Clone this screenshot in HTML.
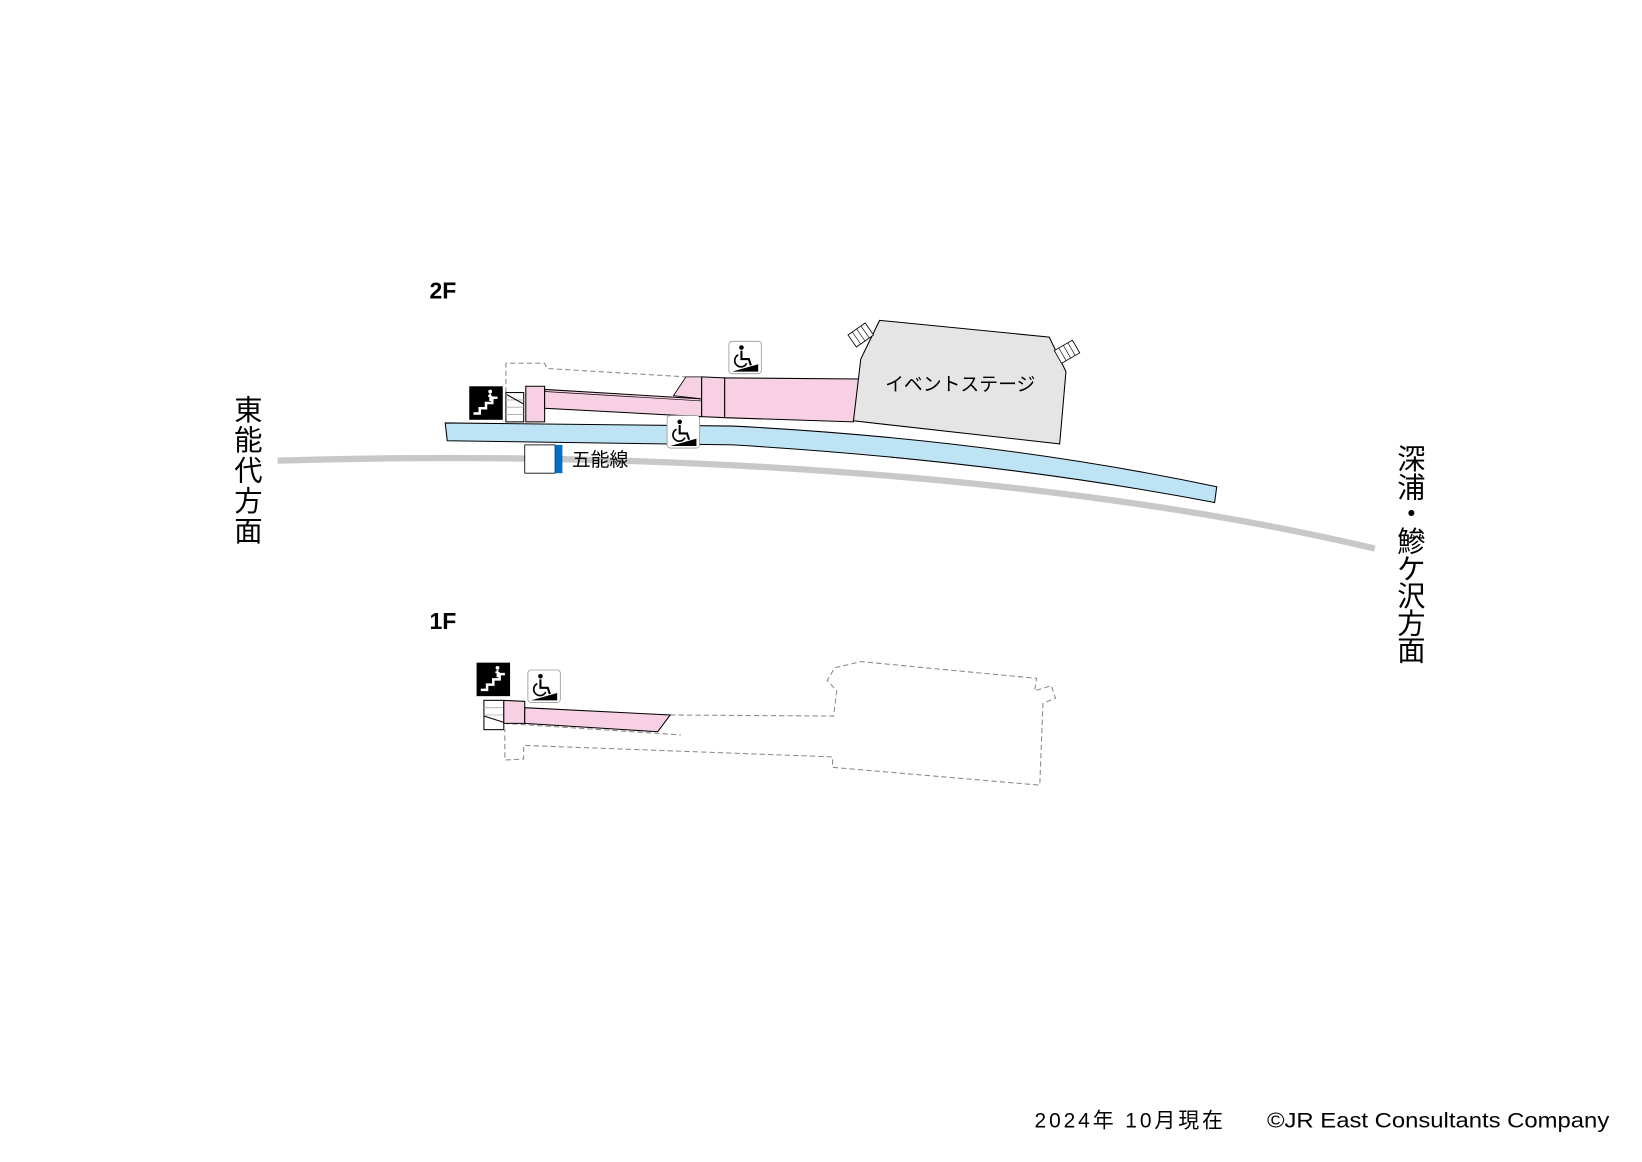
<!DOCTYPE html>
<html><head><meta charset="utf-8"><style>
html,body{margin:0;padding:0;background:#fff;}
svg{display:block;}
text{font-family:"Liberation Sans","Noto Sans CJK JP",sans-serif;fill:#000;}
</style></head><body>
<svg width="1642" height="1162" viewBox="0 0 1568 1110" xmlns="http://www.w3.org/2000/svg">
<defs>
<g id="wc">
<rect x="0" y="0" width="31" height="31" rx="3" fill="#fff" stroke="#999" stroke-width="0.8"/>
<circle cx="12" cy="6" r="2.2" fill="#000"/>
<path d="M12 9 L12 17 L19 17 L21 23" fill="none" stroke="#000" stroke-width="2"/>
<path d="M9 13 A6 6 0 1 0 17 21" fill="none" stroke="#000" stroke-width="1.6"/>
<polygon points="3,29 28,29 28,22" fill="#000"/>
</g>
<g id="st">
<rect x="0" y="0" width="32" height="32" fill="#000"/>
<path d="M4 26 L10 26 L10 21 L16 21 L16 16 L22 16 L22 11 L27 11" fill="none" stroke="#fff" stroke-width="2.4"/>
<circle cx="20" cy="5" r="1.8" fill="#fff"/>
<path d="M20 7 L20 14 M18 9 L22 10" stroke="#fff" stroke-width="1.8"/>
</g>
</defs>

<path d="M265,440 C600,430 1000,450 1313,524" fill="none" stroke="#c8c8c8" stroke-width="6"/>
<path d="M425,404 L700,407 Q950,420 1162,465 L1160,480 Q950,440 700,425 L427,421 Z" fill="#bde3f5" stroke="#000" stroke-width="1"/>

<text x="410" y="285" font-size="22" font-weight="bold">2F</text>
<text x="410" y="601" font-size="22" font-weight="bold">1F</text>

<g font-size="27" text-anchor="middle">
<text x="237" y="401">東</text><text x="237" y="430">能</text><text x="237" y="459">代</text><text x="237" y="488">方</text><text x="237" y="517">面</text>
<text x="1348" y="448">深</text><text x="1348" y="475">浦</text><text x="1348" y="500">・</text><text x="1348" y="527">鰺</text><text x="1348" y="553">ケ</text><text x="1348" y="579">沢</text><text x="1348" y="605">方</text><text x="1348" y="631">面</text>
</g>

<!-- 2F -->
<path d="M483,375 L483,347 L520,347 L522,352 L655,360" fill="none" stroke="#888" stroke-width="1" stroke-dasharray="5,3"/>
<rect x="483" y="375" width="17" height="28" fill="#fff" stroke="#000"/>
<path d="M483,382 L500,382 M483,389 L500,389 M483,396 L500,396" stroke="#aaa" stroke-width="0.8"/>
<path d="M484,377 L500,386" stroke="#000"/>
<use href="#st" x="448" y="369"/>
<polygon points="502,369 520,369 520,403 502,403" fill="#f7d0e3" stroke="#000"/>
<polygon points="520,372 670,381 670,398 520,390" fill="#f7d0e3" stroke="#000"/>
<path d="M520,374 L670,383" stroke="#000" stroke-width="0.7"/>
<polygon points="643,378 655,360 670,360 670,381" fill="#f7d0e3" stroke="#000" stroke-width="0.8"/>
<polygon points="670,360 692,361 692,399 670,398" fill="#f7d0e3" stroke="#000"/>
<polygon points="692,361 822,362 815,403 692,399" fill="#f7d0e3" stroke="#000"/>
<polygon points="840,306 1002,322 1018,355 1012,424 815,402 822,343" fill="#e5e5e5" stroke="#000"/>
<text x="917" y="373" font-size="18" text-anchor="middle">イベントステージ</text>
<g transform="translate(822,320) rotate(-35)"><rect x="-10" y="-7" width="20" height="14" fill="#fff" stroke="#000" stroke-width="0.8"/><path d="M-5,-7 V7 M0,-7 V7 M5,-7 V7" stroke="#000" stroke-width="0.6"/></g>
<g transform="translate(1019,336) rotate(-30)"><rect x="-10" y="-7" width="20" height="14" fill="#fff" stroke="#000" stroke-width="0.8"/><path d="M-5,-7 V7 M0,-7 V7 M5,-7 V7" stroke="#000" stroke-width="0.6"/></g>
<use href="#wc" x="696" y="326"/>
<use href="#wc" x="637" y="397"/>
<rect x="501" y="425" width="29" height="27" fill="#fff" stroke="#000" stroke-width="0.8"/>
<rect x="530" y="425" width="7" height="27" fill="#0070c0"/>
<text x="546" y="445" font-size="18">五能線</text>

<!-- 1F -->
<path d="M640,683 L796,684 L799,660 L790,650 L797,638 L822,632 L990,648 L988,660 L1004,655 L1008,667 L996,672 L993,750 L795,733 L795,723 L500,712 L500,725 L482,726 L482,697 M481,691 L650,702" fill="none" stroke="#888" stroke-width="1" stroke-dasharray="5,3"/>
<use href="#st" x="455" y="633"/>
<use href="#wc" x="504" y="640"/>
<rect x="462" y="669" width="19" height="28" fill="#fff" stroke="#000"/>
<path d="M462,676 L481,676 M462,683 L481,683" stroke="#aaa" stroke-width="0.8"/>
<path d="M462,684 L481,690" stroke="#000"/>
<polygon points="481,669 501,670 501,691 481,691" fill="#f7d0e3" stroke="#000"/>
<polygon points="501,676 640,683 628,699 501,691" fill="#f7d0e3" stroke="#000"/>

<text x="988" y="1077" font-size="20" textLength="180" lengthAdjust="spacing">2024年 10月現在</text>
<text x="1210" y="1077" font-size="20" textLength="327" lengthAdjust="spacingAndGlyphs">©JR East Consultants Company</text>
</svg>
</body></html>
